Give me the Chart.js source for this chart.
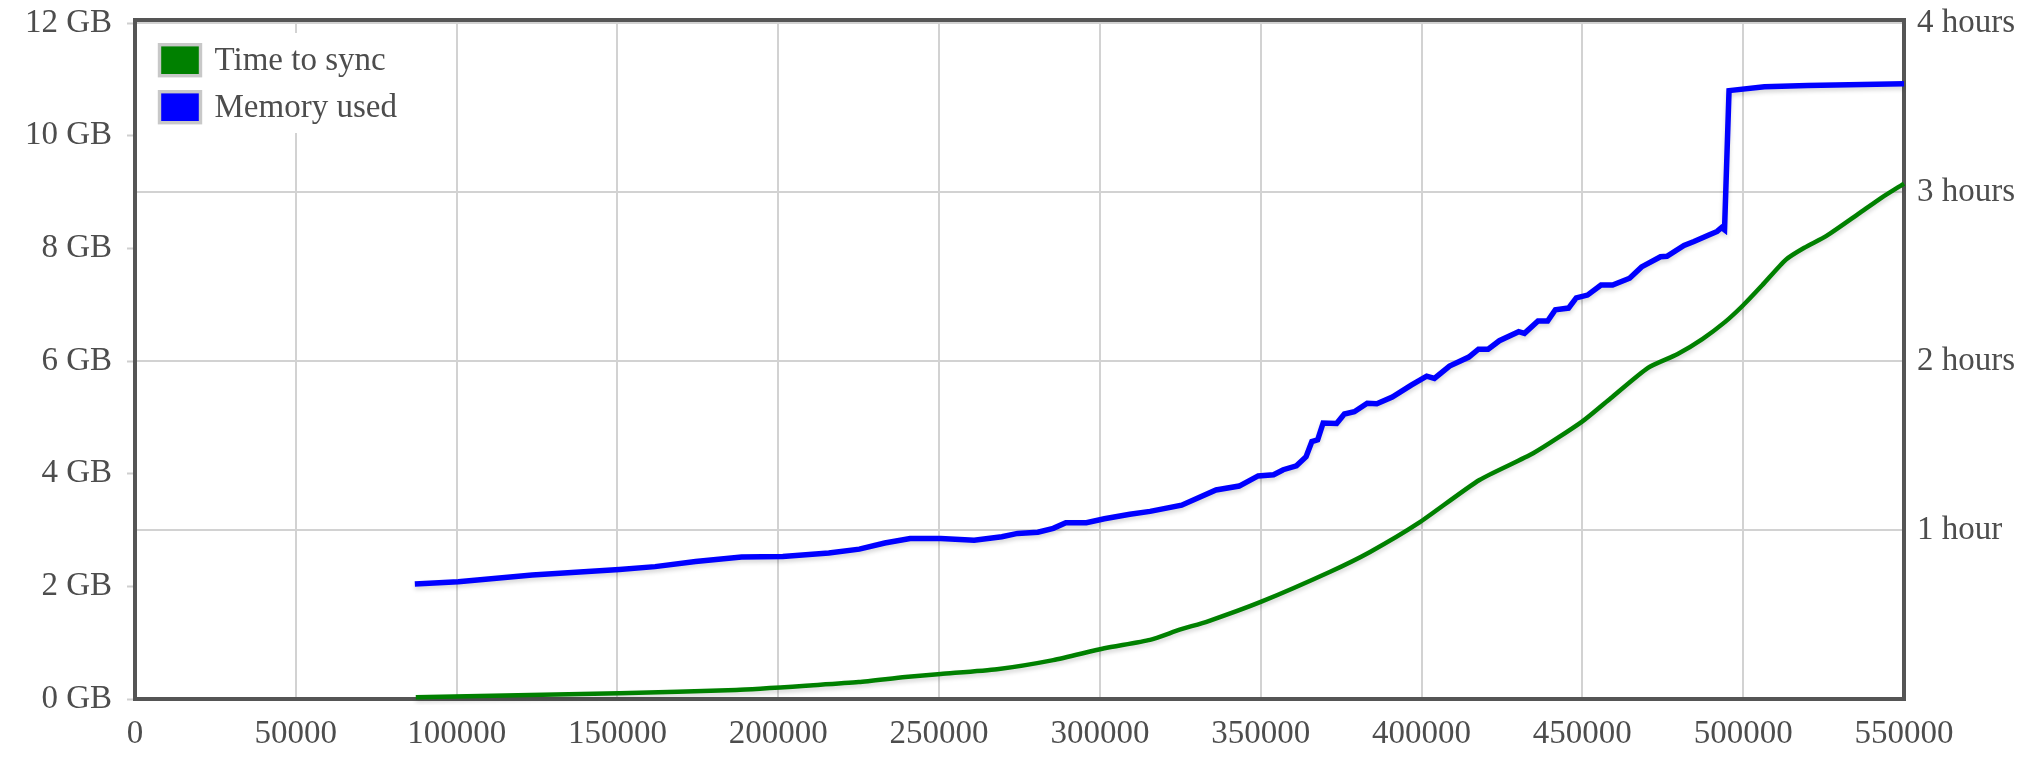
<!DOCTYPE html>
<html>
<head>
<meta charset="utf-8">
<script src="https://cdn.jsdelivr.net/npm/chart.js"></script>
<style>
    html, body { margin: 0; padding: 0; background: #fff; }
    canvas { display: block; }
</style>
</head>
<body>
<canvas id="syncChart" width="2036" height="778"></canvas>
<script>
// blocks synced (x) vs time to sync (hours, right axis)
const syncBlocks = [87300, 150600, 186900, 212300, 225000, 239500, 250500, 268000, 285500, 301400,
    315600, 324800, 333600, 350200, 371600, 384000, 399000, 418000, 434700, 449800,
    458800, 470400, 479500, 487300, 494300, 500000, 506000, 513300, 519000, 525900,
    535800, 543300, 550000];
const syncHours = [0.01, 0.034, 0.053, 0.083, 0.10, 0.13, 0.148, 0.176, 0.23, 0.30,
    0.35, 0.41, 0.46, 0.576, 0.753, 0.87, 1.04, 1.296, 1.454, 1.64,
    1.78, 1.96, 2.04, 2.13, 2.23, 2.33, 2.45, 2.60, 2.67, 2.74,
    2.87, 2.97, 3.05];

// blocks synced (x) vs memory used (GB, left axis)
const memBlocks = [87000, 100500, 123500, 150600, 161700, 174300, 188600, 201400, 215700, 225200,
    233100, 241000, 250500, 260900, 269500, 274400, 280700, 285500, 289400, 295800,
    301400, 309300, 315600, 325400, 336100, 343300, 349200, 354000, 357000, 361100,
    364100, 365900, 367700, 369400, 373600, 376000, 379100, 383100, 386100, 390900,
    396800, 401600, 404000, 408700, 414700, 417700, 420700, 424200, 430200, 432000,
    436200, 439200, 441600, 445700, 448100, 451600, 455800, 459400, 464700, 468400,
    474300, 476300, 481600, 484700, 489500, 491900, 493300, 494200, 495600, 506600,
    520000, 550000];
const memGB = [2.04, 2.08, 2.20, 2.30, 2.35, 2.44, 2.52, 2.53, 2.59, 2.66,
    2.77, 2.85, 2.85, 2.82, 2.88, 2.94, 2.96, 3.03, 3.13, 3.13,
    3.20, 3.28, 3.33, 3.44, 3.71, 3.78, 3.96, 3.98, 4.07, 4.14,
    4.30, 4.57, 4.60, 4.90, 4.89, 5.06, 5.10, 5.25, 5.24, 5.36,
    5.57, 5.73, 5.69, 5.91, 6.07, 6.21, 6.21, 6.36, 6.52, 6.49,
    6.71, 6.71, 6.91, 6.94, 7.12, 7.17, 7.35, 7.35, 7.47, 7.67,
    7.85, 7.86, 8.05, 8.12, 8.24, 8.30, 8.37, 8.33, 10.80, 10.87,
    10.89, 10.92];

const xTicks = [0, 50000, 100000, 150000, 200000, 250000, 300000, 350000, 400000, 450000, 500000, 550000];
const gbTicks = [0, 2, 4, 6, 8, 10, 12];
const hourTicks = ['', '1 hour', '2 hours', '3 hours', '4 hours'];

const FONT = { family: "'Liberation Serif', 'DejaVu Serif', serif", size: 33 };
const TEXT = '#4d4d4d';
const GRID = '#d2d2d2';

const toPoints = (xs, ys) => xs.map((x, i) => ({ x: x, y: ys[i] }));

// frame round the plot, under the lines
const plotFrame = {
    id: 'plotFrame',
    beforeDatasetsDraw(chart) {
        const { ctx, chartArea: a } = chart;
        ctx.save();
        ctx.strokeStyle = '#555';
        ctx.lineWidth = 4;
        ctx.strokeRect(a.left, a.top - 3, a.right - a.left, a.bottom - a.top + 3);
        ctx.restore();
    }
};

// legend box sitting inside the plot, top left
const innerLegend = {
    id: 'innerLegend',
    beforeDatasetsDraw(chart) {
        const { ctx, chartArea: a } = chart;
        const x0 = a.left + 24.5, y0 = a.top + 21.7;
        ctx.save();
        ctx.fillStyle = '#fff';
        ctx.fillRect(a.left + 15, a.top + 10, 270, 100);
        ctx.font = FONT.size + 'px ' + FONT.family;
        ctx.textBaseline = 'middle';
        chart.data.datasets.forEach((ds, i) => {
            const y = y0 + i * 47;
            ctx.fillStyle = ds.borderColor;
            ctx.fillRect(x0, y, 41, 31);
            ctx.strokeStyle = '#c8c8c8';
            ctx.lineWidth = 3.4;
            ctx.strokeRect(x0, y, 41, 31);
            ctx.fillStyle = TEXT;
            ctx.fillText(ds.label, x0 + 55, y + 17);
        });
        ctx.restore();
    }
};

// soft shadow under each line
const lineShadow = {
    id: 'lineShadow',
    beforeDatasetDraw(chart) {
        const c = chart.ctx;
        c.save();
        c.shadowColor = 'rgba(0,0,0,0.16)';
        c.shadowBlur = 4;
        c.shadowOffsetY = 3;
    },
    afterDatasetDraw(chart) {
        chart.ctx.restore();
    }
};

const noEdgePadding = s => { s.paddingTop = 0; s.paddingBottom = 0; };

new Chart(document.getElementById('syncChart'), {
    type: 'line',
    data: {
        datasets: [{
            label: 'Time to sync',
            data: toPoints(syncBlocks, syncHours),
            yAxisID: 'y2',
            borderColor: '#008000',
            borderWidth: 4.5,
            pointRadius: 0,
            tension: 0.2,
            clip: 6
        }, {
            label: 'Memory used',
            data: toPoints(memBlocks, memGB),
            yAxisID: 'y',
            borderColor: '#0000ff',
            borderWidth: 5.5,
            pointRadius: 0,
            tension: 0,
            clip: 6
        }]
    },
    options: {
        responsive: false,
        animation: false,
        layout: { padding: { top: 23, left: 0, right: 0, bottom: 0 } },
        plugins: { legend: { display: false }, tooltip: { enabled: false } },
        scales: {
            x: {
                type: 'linear',
                min: xTicks[0], max: xTicks[xTicks.length - 1],
                afterFit: s => { s.height = 79; },
                afterBuildTicks: s => { s.ticks = xTicks.map(v => ({ value: v })); },
                grid: { color: GRID, lineWidth: 2, drawTicks: false },
                border: { display: false },
                ticks: { font: FONT, color: TEXT, padding: 16, maxRotation: 0, autoSkip: false,
                    callback: v => String(v) }
            },
            y: {
                position: 'left',
                min: gbTicks[0], max: gbTicks[gbTicks.length - 1],
                afterFit: s => { s.width = 135; noEdgePadding(s); },
                afterBuildTicks: s => { s.ticks = gbTicks.map(v => ({ value: v })); },
                grid: { drawOnChartArea: false, drawTicks: true, tickLength: 8, tickColor: '#cfcfcf', tickWidth: 2 },
                border: { display: false },
                ticks: { font: FONT, color: TEXT, padding: 15, callback: v => v + ' GB' }
            },
            y2: {
                position: 'right',
                min: 0, max: hourTicks.length - 1,
                afterFit: s => { s.width = 132; noEdgePadding(s); },
                afterBuildTicks: s => { s.ticks = hourTicks.map((t, i) => ({ value: i })); },
                grid: { color: GRID, lineWidth: 2, drawTicks: false },
                border: { display: false },
                ticks: { font: FONT, color: TEXT, padding: 13, callback: v => hourTicks[v] }
            }
        }
    },
    plugins: [plotFrame, innerLegend, lineShadow]
});
</script>
</body>
</html>
